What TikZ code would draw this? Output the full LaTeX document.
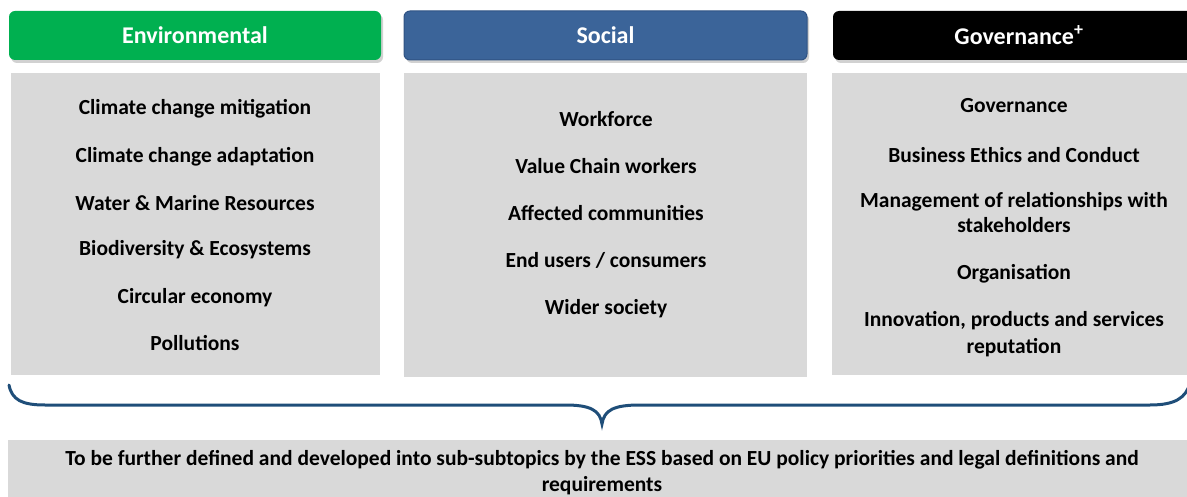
\documentclass[tikz,border=0pt]{standalone}
\usepackage{fontspec}
\setmainfont{Carlito}
\usetikzlibrary{shadows}
\definecolor{envgreen}{HTML}{00B050}
\definecolor{socblue}{HTML}{3B6499}
\definecolor{socborder}{HTML}{2F5283}
\definecolor{boxgrey}{HTML}{D9D9D9}
\definecolor{bracecol}{HTML}{1F4E79}
\tikzset{
  hdr/.style={rounded corners=6pt, minimum height=49pt, inner sep=0pt, font=\bfseries\fontsize{24}{26}\selectfont, text=white,
    drop shadow={shadow xshift=2pt, shadow yshift=-3pt, fill=black, opacity=0.18}},
  panel/.style={fill=boxgrey, inner sep=0pt, anchor=north west},
  item/.style={font=\bfseries\fontsize{21.5}{25}\selectfont, align=center, inner sep=0pt},
  brace/.style={draw=bracecol, line width=3pt, line cap=round}
}
\begin{document}
\begin{tikzpicture}[x=1pt, y=-1pt]
\useasboundingbox (0,0) rectangle (1187,497);
\clip (0,0) rectangle (1187,497);
% headers
\node[hdr, fill=envgreen, minimum width=372pt] (henv) at (195,35.5) {Environmental};
\node[hdr, fill=socblue, draw=socborder, line width=1pt, minimum width=403pt] (hsoc) at (605.5,35.5) {Social};
\node[hdr, fill=black, minimum width=372pt] (hgov) at (1019,35.5) {Governance\textsuperscript{\fontsize{18}{18}\selectfont\bfseries+}};
% panels
\node[panel, minimum width=369pt, minimum height=302pt] (penv) at (11,73) {};
\node[panel, minimum width=403pt, minimum height=304pt] (psoc) at (404,73) {};
\node[panel, minimum width=370pt, minimum height=302pt] (pgov) at (832,73) {};
% environmental items
\node[item] (e1) at (195,108.5) {Climate change mitigation};
\node[item] (e2) at (195,156.5) {Climate change adaptation};
\node[item] (e3) at (195,203) {Water \& Marine Resources};
\node[item] (e4) at (195,249.5) {Biodiversity \& Ecosystems};
\node[item] (e5) at (195,297.5) {Circular economy};
\node[item] (e6) at (195,343) {Pollutions};
% social items
\node[item] (s1) at (606,119) {Workforce};
\node[item] (s2) at (606,166.5) {Value Chain workers};
\node[item] (s3) at (606,213) {Affected communities};
\node[item] (s4) at (606,260) {End users / consumers};
\node[item] (s5) at (606,308.5) {Wider society};
% governance items
\node[item] (g1) at (1014,106) {Governance};
\node[item] (g2) at (1014,155) {Business Ethics and Conduct};
\node[item] (g3) at (1014,213) {Management of relationships with\\stakeholders};
\node[item] (g4) at (1014,274) {Organisation};
\node[item, font=\bfseries\fontsize{21.5}{27}\selectfont] (g5) at (1014,334) {Innovation, products and services\\reputation};
% brace
\coordinate (bl) at (9,385);
\coordinate (bm) at (602,424);
\coordinate (br) at (1190,383);
\draw[brace] (bl) .. controls (12,400) and (22,405) .. (45,405) -- (565,405) .. controls (590,405) and (600,410) .. (bm)
  .. controls (604,410) and (614,405) .. (640,405) -- (1150,405) .. controls (1175,405) and (1186,398) .. (br);
% bottom box
\node[panel, minimum width=1190pt, minimum height=60pt] (bottom) at (8,440) {};
\node[item, font=\bfseries\fontsize{21.5}{26}\selectfont] (btext) at (602,473) {To be further defined and developed into sub-subtopics by the ESS based on EU policy priorities and legal definitions and\\requirements};
\end{tikzpicture}
\end{document}
